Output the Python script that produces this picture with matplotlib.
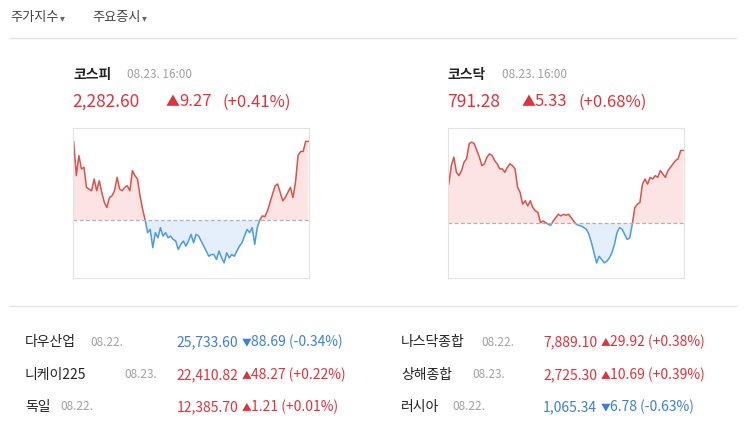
import matplotlib.pyplot as plt
import numpy as np

plt.rcParams['font.family'] = ['Noto Sans CJK KR', 'DejaVu Sans']

# intraday change vs previous close (index points)
kospi_chg = [9.19, 5.23, 7.60, 6.02, 6.22, 3.84, 3.64, 3.45, 4.83, 3.45, 4.63, 3.25, 2.06, 1.47,
             2.65, 2.85, 3.45, 5.03, 3.64, 3.45, 3.84, 4.04, 3.45, 5.82, 5.23, 4.83, 2.85, 1.27,
             0.0, -1.50, -1.11, -3.27, -1.50, -2.10, -0.91, -1.90, -1.50, -2.10, -1.90, -2.30,
             -2.49, -3.48, -2.89, -2.49, -3.09, -2.49, -1.70, -2.69, -1.70, -1.90, -2.49, -3.09,
             -3.68, -4.28, -4.08, -4.08, -4.67, -3.68, -4.47, -5.07, -3.88, -4.47, -4.08, -4.28,
             -3.68, -3.09, -2.69, -1.90, -1.11, -1.50, -0.91, -2.89, -0.91, 0.0, 0.48, 0.40, 1.07,
             2.06, 3.05, 4.04, 4.24, 3.25, 2.26, 2.65, 3.25, 3.84, 2.65, 4.44, 7.60, 8.08, 8.08,
             9.27, 9.27]
kosdaq_chg = [2.87, 4.22, 4.84, 3.73, 3.49, 3.86, 4.47, 4.72, 5.82, 5.94, 5.82, 5.33, 4.84, 4.22,
              4.35, 4.84, 5.08, 4.96, 4.59, 4.35, 3.98, 3.98, 3.73, 4.10, 4.35, 4.22, 3.98, 2.63,
              2.26, 1.40, 1.65, 1.28, 1.65, 1.15, 0.91, 0.79, 0.05, 0.17, 0.05, -0.07, -0.15, 0.17,
              0.42, 0.66, 0.54, 0.66, 0.59, 0.66, 0.42, 0.17, -0.07, -0.15, -0.20, -0.32, -0.44,
              -0.81, -1.42, -2.16, -2.90, -2.41, -2.65, -2.90, -2.78, -2.53, -2.16, -1.55, -0.69,
              -0.32, -0.44, -0.81, -1.18, -1.06, -0.07, 1.15, 1.40, 1.52, 2.87, 3.24, 2.87, 3.36,
              3.24, 3.49, 3.36, 3.86, 3.61, 3.36, 3.86, 4.10, 4.35, 4.59, 4.72, 5.33, 5.33]

main_names = ['코스피', '코스닥']
main_dates = ['08.23. 16:00', '08.23. 16:00']
main_values = ['2,282.60', '791.28']
main_changes = ['9.27', '5.33']
main_pcts = ['(+0.41%)', '(+0.68%)']

world_names = ['다우산업', '니케이225', '독일', '나스닥종합', '상해종합', '러시아']
world_dates = ['08.22.', '08.23.', '08.22.', '08.22.', '08.23.', '08.22.']
world_values = ['25,733.60', '22,410.82', '12,385.70', '7,889.10', '2,725.30', '1,065.34']
world_changes = [-88.69, 48.27, 1.21, 29.92, 10.69, -6.78]
world_pcts = ['(-0.34%)', '(+0.22%)', '(+0.01%)', '(+0.38%)', '(+0.39%)', '(-0.63%)']

W, H = 746, 430
RED, BLUE, GRAY, DARK = '#e0323a', '#3c7fd8', '#a0a0a0', '#222222'

fig = plt.figure(figsize=(W / 100, H / 100), dpi=100)


def px(x, y):
    return x / W, 1 - y / H


def txt(x, y, s, **kw):
    fig.text(*px(x, y), s, va='center', **kw)


# top menu
txt(10, 18, '주가지수', fontsize=9.5, color='#444')
txt(60, 18, '▾', fontsize=7, color='#666')
txt(92, 18, '주요증시', fontsize=9.5, color='#444')
txt(142, 18, '▾', fontsize=7, color='#666')
for yy in (38, 306):
    fig.add_artist(plt.Line2D([10 / W, 736 / W], [1 - yy / H] * 2, color='#e4e4e4', lw=1))


def spark(ax, chg, ylim):
    y = np.array(chg)
    x = np.arange(len(y))
    ax.fill_between(x, y, 0, where=y >= 0, interpolate=True, color='#fde4e4', lw=0)
    ax.fill_between(x, y, 0, where=y <= 0, interpolate=True, color='#e4effb', lw=0)
    up = plt.Rectangle((-1, 0), len(y) + 2, 100, transform=ax.transData)
    dn = plt.Rectangle((-1, -100), len(y) + 2, 100, transform=ax.transData)
    l1, = ax.plot(x, y, color='#d9534a', lw=1.1)
    l1.set_clip_path(up)
    l2, = ax.plot(x, y, color='#4a9be6', lw=1.1)
    l2.set_clip_path(dn)
    ax.axhline(0, color='#b0b0b0', lw=0.9, ls=(0, (3, 2)))
    ax.set_xlim(-0.3, len(y) - 0.7)
    ax.set_ylim(*ylim)
    ax.set_xticks([])
    ax.set_yticks([])
    for s in ax.spines.values():
        s.set_color('#e2e2e2')


lefts = [73, 448]
series = [kospi_chg, kosdaq_chg]
limits = [(-6.85, 10.85), (-4.0, 6.97)]
for i in range(2):
    x0 = lefts[i]
    ax = fig.add_axes([x0 / W, 1 - 278 / H, 236 / W, 150 / H])
    spark(ax, series[i], limits[i])
    txt(x0, 75, main_names[i], fontsize=10, fontweight='bold', color=DARK)
    txt(x0 + 54, 75, main_dates[i], fontsize=8.5, color=GRAY)
    off = 93 if i == 0 else 74
    txt(x0 - 1, 102, main_values[i], fontsize=12.5, color=RED)
    txt(x0 + off, 102, '▲', fontsize=10, color=RED)
    txt(x0 + off + 13, 102, main_changes[i], fontsize=12, color=RED)
    txt(x0 + off + 57, 102, main_pcts[i], fontsize=12, color=RED)

# world indices table
rows_y = [342, 375, 407]
date_x = [90, 124, 60, 481, 472, 452]
for k in range(6):
    col = k // 3
    y = rows_y[k % 3]
    nx = 25 if col == 0 else 401
    vx = 238 if col == 0 else 597
    ch = world_changes[k]
    c = RED if ch > 0 else BLUE
    arrow = '▲' if ch > 0 else '▼'
    txt(nx, y, world_names[k], fontsize=10, color=DARK)
    txt(date_x[k], y, world_dates[k], fontsize=8.5, color=GRAY)
    txt(vx, y, world_values[k], fontsize=10, color=c, ha='right')
    txt(vx + 4, y, arrow, fontsize=7, color=c)
    txt(vx + 13, y, f'{abs(ch):.2f} {world_pcts[k]}', fontsize=10, color=c)

fig.savefig('out.png', dpi=100)
